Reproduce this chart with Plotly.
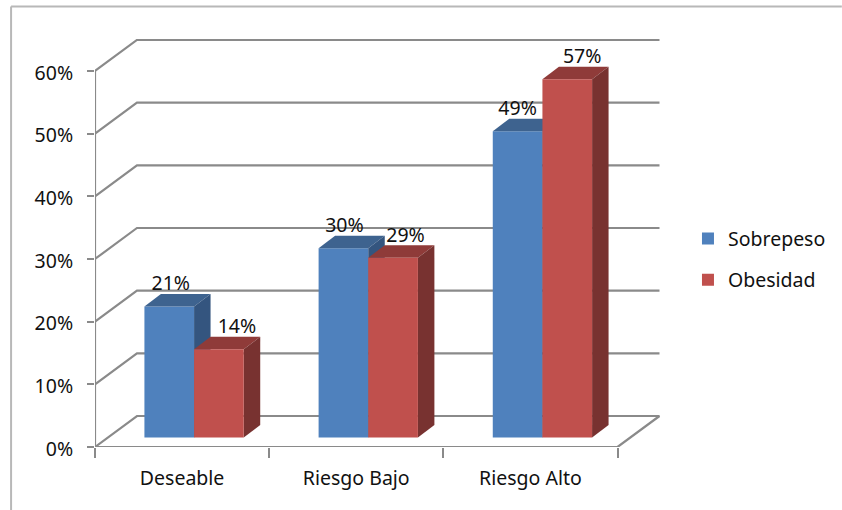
import plotly.graph_objects as go

categories = ["Deseable", "Riesgo Bajo", "Riesgo Alto"]
sobrepeso = [20.9, 30.2, 48.9]
obesidad = [14.1, 28.7, 57.2]
sobrepeso_labels = ["21%", "30%", "49%"]
obesidad_labels = ["14%", "29%", "57%"]
y_ticks = [0, 10, 20, 30, 40, 50, 60]
y_tick_labels = ["0%", "10%", "20%", "30%", "40%", "50%", "60%"]

# plot geometry (pixels of the frame mapped to axis units)
PX_X = 174.33
PX_Y = 6.267
L, R, T, B = 94.5, 661, 39, 447
xr = [-0.5, -0.5 + (R - L) / PX_X]
yr = [0, (B - T) / PX_Y]
wall_dx, wall_dy = 42 / PX_X, 31 / PX_Y
bar_dx, bar_dy = 16.5 / PX_X, 12.5 / PX_Y
bar_w = 49.7 / PX_X
bar_shift = 12 / PX_X
bar_base = 9.4 / PX_Y

GRID = "#8a8a8a"
FONT = "Noto Sans"
FS = 19.5
TXT = "#111111"
BLUE, BLUE_TOP, BLUE_SIDE = "#4F81BD", "#3E638F", "#34557F"
RED, RED_TOP, RED_SIDE = "#C0504D", "#8F3B39", "#783230"

fig = go.Figure()

# walls and floor
for v in y_ticks:
    fig.add_trace(go.Scatter(
        x=[-0.5, -0.5 + wall_dx, 2.5 + wall_dx],
        y=[v, v + wall_dy, v + wall_dy],
        mode="lines", line=dict(color=GRID, width=2.2),
        showlegend=False, hoverinfo="skip", cliponaxis=False))
fig.add_trace(go.Scatter(x=[-0.5, 2.5, 2.5 + wall_dx], y=[0, 0, wall_dy], mode="lines",
                         line=dict(color=GRID, width=2.2), showlegend=False,
                         hoverinfo="skip", cliponaxis=False))
fig.add_trace(go.Scatter(x=[-0.5, -0.5], y=[0, y_ticks[-1]], mode="lines",
                         line=dict(color=GRID, width=2.2), showlegend=False,
                         hoverinfo="skip", cliponaxis=False))


def box_faces(values, left_of_center, top_color, side_color, xa, ya):
    for i, v in enumerate(values):
        x0 = i + bar_shift + (-bar_w if left_of_center else 0)
        x1 = x0 + bar_w
        top = bar_base + v
        fig.add_trace(go.Scatter(
            x=[x0, x1, x1 + bar_dx, x0 + bar_dx, x0],
            y=[top, top, top + bar_dy, top + bar_dy, top],
            mode="lines", fill="toself", fillcolor=top_color, line=dict(width=0),
            showlegend=False, hoverinfo="skip", xaxis=xa, yaxis=ya))
        fig.add_trace(go.Scatter(
            x=[x1, x1 + bar_dx, x1 + bar_dx, x1, x1],
            y=[bar_base, bar_base + bar_dy, top + bar_dy, top, bar_base],
            mode="lines", fill="toself", fillcolor=side_color, line=dict(width=0),
            showlegend=False, hoverinfo="skip", xaxis=xa, yaxis=ya))


# blue boxes, then the red tops and sides on the same layer
fig.add_trace(go.Bar(x=[0, 1, 2], y=sobrepeso, base=bar_base, width=bar_w,
                     offset=bar_shift - bar_w, name="Sobrepeso",
                     marker=dict(color=BLUE, line=dict(width=0)),
                     xaxis="x2", yaxis="y2", legendgroup="a"))
box_faces(sobrepeso, True, BLUE_TOP, BLUE_SIDE, "x2", "y2")
box_faces(obesidad, False, RED_TOP, RED_SIDE, "x2", "y2")

# red fronts on the top layer
fig.add_trace(go.Bar(x=[0, 1, 2], y=obesidad, base=bar_base, width=bar_w,
                     offset=bar_shift, name="Obesidad",
                     marker=dict(color=RED, line=dict(width=0)),
                     xaxis="x3", yaxis="y3", legendgroup="b"))

# data labels
label_lift = 21 / PX_Y
sob_nudge = [1.5, 1, 0]
obe_nudge = [18, 12.5, 15]
for vals, labs, nudges, sign in [(sobrepeso, sobrepeso_labels, sob_nudge, -1),
                                 (obesidad, obesidad_labels, obe_nudge, 1)]:
    fig.add_trace(go.Scatter(
        x=[i + bar_shift + sign * bar_w / 2 + n / PX_X for i, n in enumerate(nudges)],
        y=[bar_base + v + label_lift for v in vals],
        text=labs, mode="text", textposition="middle center",
        textfont=dict(family=FONT, size=FS, color=TXT),
        showlegend=False, hoverinfo="skip", cliponaxis=False,
        xaxis="x3", yaxis="y3"))

hidden = dict(range=xr, visible=False, overlaying="x", fixedrange=True)
hiddeny = dict(range=yr, visible=False, overlaying="y", fixedrange=True)

fig.update_layout(
    width=842, height=510,
    margin=dict(l=L, r=842 - R, t=T, b=510 - B, autoexpand=False),
    paper_bgcolor="white", plot_bgcolor="white",
    barmode="overlay",
    font=dict(family=FONT, size=FS, color=TXT),
    xaxis=dict(range=xr, tickvals=[0, 1, 2], ticktext=categories, showgrid=False,
               zeroline=False, showline=False, ticks="outside", ticklen=10,
               tickwidth=2, tickcolor="rgba(0,0,0,0)", ticklabelstandoff=4,
               minor=dict(tickvals=[-0.5, 0.5, 1.5, 2.5], ticks="outside", ticklen=10,
                          tickwidth=2, tickcolor=GRID, showgrid=False),
               tickfont=dict(family=FONT, size=FS, color=TXT)),
    yaxis=dict(range=yr, tickvals=y_ticks, ticktext=y_tick_labels, showgrid=False,
               zeroline=False, showline=False, ticks="outside", ticklen=7,
               tickwidth=2, tickcolor=GRID, ticklabelstandoff=10, ticklabelshift=2,
               tickfont=dict(family=FONT, size=FS, color=TXT)),
    xaxis2=hidden, yaxis2=hiddeny, xaxis3=hidden, yaxis3=hiddeny,
    legend=dict(x=(688 - L) / (R - L), xref="paper", xanchor="left", y=0.46, yanchor="middle",
                tracegroupgap=13, traceorder="grouped", itemclick=False, itemdoubleclick=False,
                font=dict(family=FONT, size=FS, color=TXT), bgcolor="rgba(0,0,0,0)"),
    shapes=[
        dict(type="line", xref="paper", yref="paper", layer="below",
             x0=(10.5 - L) / (R - L), x1=(842 - L) / (R - L),
             y0=(B - 6.5) / (B - T), y1=(B - 6.5) / (B - T),
             line=dict(color="#b8b8b8", width=2)),
        dict(type="line", xref="paper", yref="paper", layer="below",
             x0=(10.5 - L) / (R - L), x1=(10.5 - L) / (R - L),
             y0=(B - 6.5) / (B - T), y1=(B - 510) / (B - T),
             line=dict(color="#b8b8b8", width=2)),
    ],
)

fig.write_html("out.html", config=dict(displayModeBar=False),
               post_script="document.body.style.margin='0';document.body.style.overflow='hidden';")
